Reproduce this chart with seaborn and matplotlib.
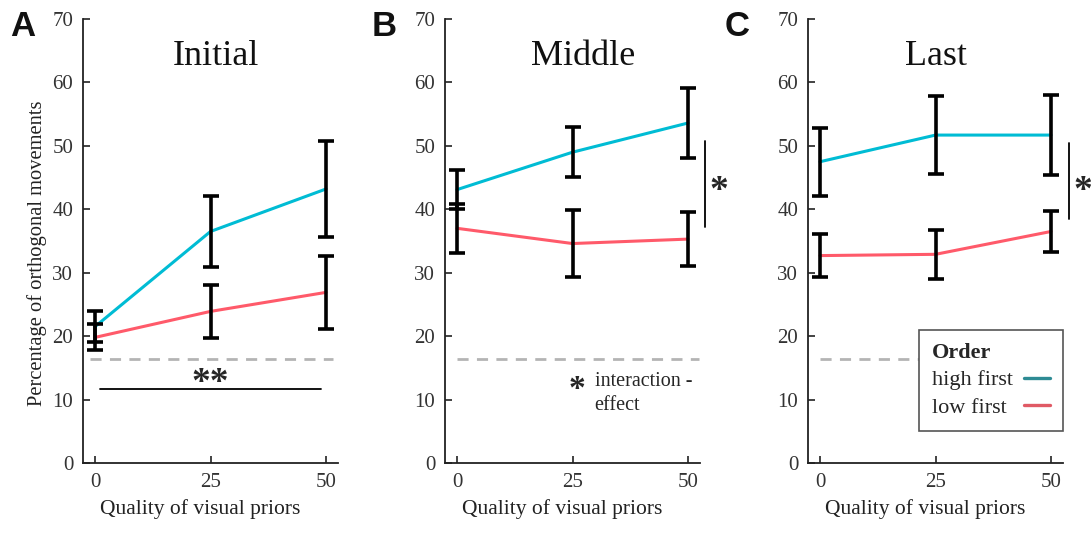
import numpy as np
import pandas as pd
import matplotlib
matplotlib.use("Agg")
import matplotlib.pyplot as plt
from matplotlib.lines import Line2D
import seaborn as sns

sns.set_style("ticks")
plt.rcParams["font.family"] = ["Liberation Serif", "DejaVu Serif"]

# Quality of visual priors (x axis)
quality = [0, 25, 50]
order_labels = ["high first", "low first"]

# Initial block
initial_high = [21.5, 36.5, 43.2]
initial_high_err = [2.5, 5.6, 7.6]
initial_low = [19.8, 23.9, 26.9]
initial_low_err = [2.05, 4.2, 5.75]

# Middle block
middle_high = [43.1, 49.0, 53.6]
middle_high_err = [3.05, 3.95, 5.45]
middle_low = [37.0, 34.6, 35.3]
middle_low_err = [3.85, 5.25, 4.2]

# Last block
last_high = [47.5, 51.7, 51.7]
last_high_err = [5.35, 6.15, 6.3]
last_low = [32.7, 32.9, 36.5]
last_low_err = [3.4, 3.9, 3.3]

chance_level = 16.4
y_ticks = [0, 10, 20, 30, 40, 50, 60, 70]

panel_titles = ["Initial", "Middle", "Last"]
panel_letters = ["A", "B", "C"]

line_colors = {"high first": "#00bcd4", "low first": "#ff5a6a"}
legend_colors = {"high first": "#2e8b94", "low first": "#e05a65"}

blocks = [
    (initial_high, initial_high_err, initial_low, initial_low_err),
    (middle_high, middle_high_err, middle_low, middle_low_err),
    (last_high, last_high_err, last_low, last_low_err),
]

fig = plt.figure(figsize=(10.91, 5.59), dpi=100)
W, H = 1091, 559
ax_lefts = [83, 445, 808]
ax_w, ax_bottom, ax_h = 255, 463, 444
axes = [fig.add_axes([l / W, (H - ax_bottom) / H, ax_w / W, ax_h / H]) for l in ax_lefts]

tick_color = "#333333"
dash_spans = [(-1.0, 51.5), (0.0, 52.3), (0.0, 52.0)]
title_x = [0.52, 0.54, 0.50]
letter_x = [23, 384, 737]

for i, ax in enumerate(axes):
    hi, hi_err, lo, lo_err = blocks[i]
    df = pd.DataFrame({
        "quality": quality * 2,
        "value": hi + lo,
        "err": hi_err + lo_err,
        "order": [order_labels[0]] * 3 + [order_labels[1]] * 3,
    })

    # chance level
    ax.plot(dash_spans[i], [chance_level, chance_level], color="#b4b4b4",
            linestyle=(0, (4, 3)), linewidth=2, zorder=1)

    sns.lineplot(data=df, x="quality", y="value", hue="order",
                 hue_order=order_labels, palette=line_colors,
                 linewidth=2.2, legend=False, ax=ax, zorder=2)

    for name in order_labels:
        sub = df[df["order"] == name]
        ax.errorbar(sub["quality"], sub["value"], yerr=sub["err"], fmt="none",
                    ecolor="black", elinewidth=2.6, capsize=6, capthick=2.6,
                    zorder=3)

    ax.set_xlim(-2.6, 52.6)
    ax.set_ylim(0, 70)
    ax.set_xticks(quality)
    ax.set_yticks(y_ticks)
    ax.tick_params(direction="in", length=5, width=1.2, labelsize=15,
                   labelcolor=tick_color, color="#222222", pad=7)
    sns.despine(ax=ax)
    for s in ("left", "bottom"):
        ax.spines[s].set_linewidth(1.3)
        ax.spines[s].set_color("#222222")

    ax.set_xlabel("Quality of visual priors", fontsize=15.5, color="#222222")
    ax.xaxis.set_label_coords(0.46, -0.082)
    if i == 0:
        ax.set_ylabel("Percentage of orthogonal movements", fontsize=14.8,
                      color="#222222")
        ax.yaxis.set_label_coords(-0.142, 0.473)
    else:
        ax.set_ylabel("")

    ax.text(title_x[i], 0.915, panel_titles[i], transform=ax.transAxes,
            ha="center", va="center", fontsize=26, color="#111111")

    fig.text(letter_x[i] / W, 1 - 27 / H, panel_letters[i],
             fontfamily="Liberation Sans", fontweight="bold", fontsize=25,
             ha="center", va="center", color="#111111")

# significance: main effect of quality in the initial block
axes[0].plot([1, 49], [11.6, 11.6], color="black", linewidth=1.3)
axes[0].text(25, 12.6, "**", ha="center", va="center", fontsize=27,
             fontweight="bold")

# interaction effects in middle and last blocks
for ax, xv, (y0, y1) in [(axes[1], 53.7, (37.2, 50.7)), (axes[2], 53.9, (38.4, 50.5))]:
    ax.plot([xv, xv], [y0, y1], color="black", linewidth=1.3, clip_on=False)
    ax.text(xv + 2.9, 42.8, "*", ha="center", va="center", fontsize=27,
            fontweight="bold", clip_on=False)

axes[1].text(26.0, 11.6, "*", ha="center", va="center", fontsize=24,
             fontweight="bold")
axes[1].text(29.8, 12.9, "interaction -", ha="left", va="center", fontsize=14.5)
axes[1].text(29.8, 9.0, "effect", ha="left", va="center", fontsize=14.5)

handles = [Line2D([0], [0], color=legend_colors[n], linewidth=2.4) for n in order_labels]
leg = axes[2].legend(handles, order_labels, title="Order", loc="lower right",
                     bbox_to_anchor=(1.0, 0.072), markerfirst=False,
                     fancybox=False, framealpha=1, edgecolor="#555555",
                     fontsize=16, title_fontsize=16, handlelength=1.15,
                     handletextpad=0.5, borderpad=0.6, labelspacing=0.3,
                     alignment="left", borderaxespad=0)
leg.get_title().set_fontweight("bold")
leg.get_frame().set_linewidth(1.2)
leg.set_zorder(5)

# left-align the entry labels while keeping the line samples in one column
fig.canvas.draw()
column = leg._legend_handle_box.get_children()[0]
column.align = "left"
label_widths = [t.get_window_extent().width for t in leg.get_texts()]
widest = max(label_widths)
for item, w in zip(column.get_children(), label_widths):
    item.sep += (widest - w) * 72.0 / fig.dpi

fig.savefig("out.png", dpi=100, facecolor="white")
